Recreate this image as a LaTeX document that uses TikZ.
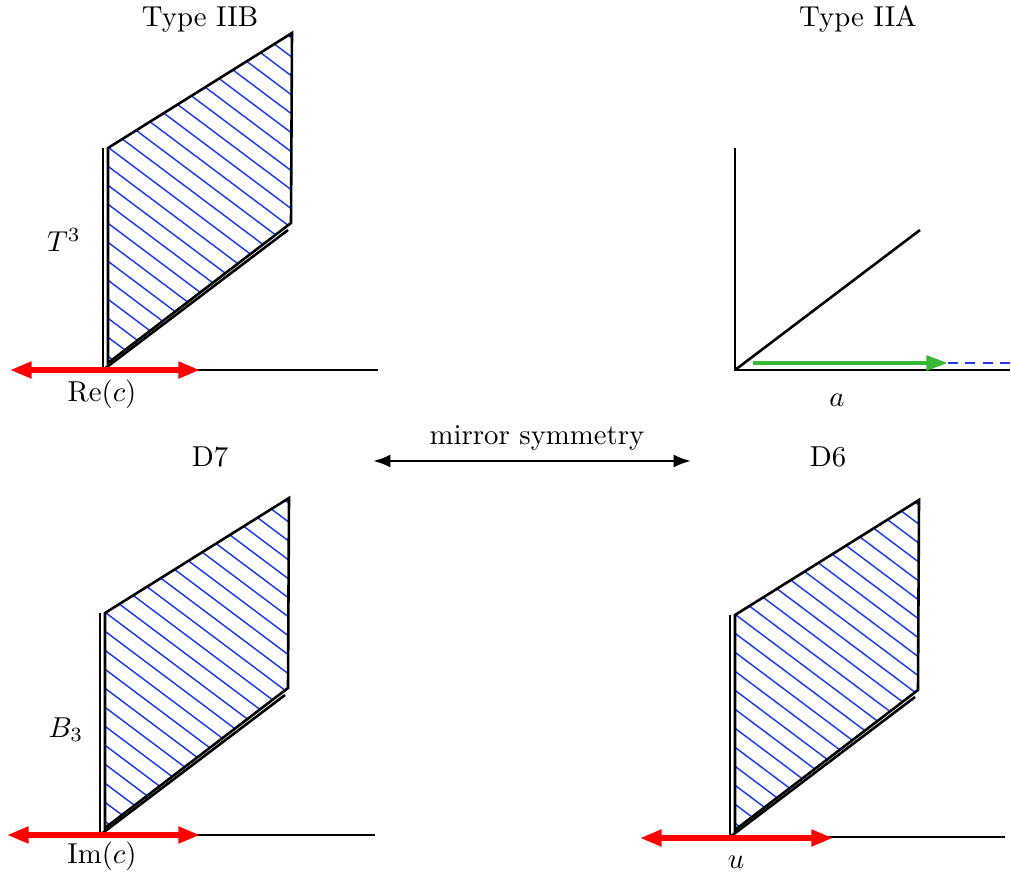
\documentclass[tikz,border=0pt]{standalone}
\usepackage{tikz}
\usetikzlibrary{arrows.meta,positioning,calc}
\definecolor{hatchblue}{RGB}{30,60,235}
\definecolor{flowgreen}{RGB}{55,185,55}
\tikzset{
  axis/.style={line width=0.9pt},
  edge/.style={line width=0.9pt, line join=miter},
  hatch/.style={hatchblue, line width=0.5pt},
  lbl/.style={font=\fontsize{10}{12}\selectfont, inner sep=0pt, anchor=base},
  move/.style={{Triangle[length=7.5pt,width=5.5pt]}-{Triangle[length=7.5pt,width=5.5pt]},
    red, line width=1.8pt},
  drift/.style={-{Triangle[length=7.5pt,width=5pt]}, flowgreen, line width=1.5pt},
  tail/.style={hatchblue, line width=1pt, dash pattern=on 3.5pt off 2.5pt},
  mirr/.style={{Latex[length=6pt,width=4.5pt]}-{Latex[length=6pt,width=4.5pt]}, line width=0.9pt}
}
% three axes meeting at the origin #1
\newcommand{\axes}[1]{%
  \draw[axis] ($(#1)+(0,-222)$) -- (#1) -- ($(#1)+(275,0)$);
  \draw[axis] (#1) -- ($(#1)+(185,-140)$);}
% hatched brane leaning on the axes at #1
\newcommand{\brane}[1]{%
  \begin{scope}[shift={(#1)}]
    \begin{scope}
      \clip (5,-7) -- (5,-222) -- (189,-337) -- (188,-147) -- cycle;
      \foreach \k in {-15,...,13}
        \draw[hatch] (-10,-222+19*\k-12) -- ++(260,195);
    \end{scope}
    \draw[edge] (5,-7) -- (5,-222) -- (189,-337) -- (188,-147) -- cycle;
  \end{scope}}

\begin{document}
\begin{tikzpicture}[x=0.0122cm, y=-0.0122cm]
  \useasboundingbox (0,0) rectangle (1011,872);

  % origins of the four panels
  \coordinate (o1) at (103,370);
  \coordinate (o2) at (735,370);
  \coordinate (o3) at (100,835);
  \coordinate (o4) at (730,837);

  % type IIB
  \brane{o1}
  \axes{o1}
  \coordinate (re-l) at ($(o1)+(-93,0)$);
  \coordinate (re-r) at ($(o1)+(97,0)$);
  \draw[move] (re-l) -- (re-r);
  \node[lbl] (t2b) at (200,27) {Type IIB};
  \node[lbl] (tor) at (64,252) {$T^3$};
  \node[lbl] (rec) at (102,402) {Re$(c)$};

  % type IIA
  \axes{o2}
  \coordinate (g0) at ($(o2)+(18,-7)$);
  \coordinate (g1) at ($(o2)+(213,-7)$);
  \coordinate (g2) at ($(o2)+(276,-7)$);
  \draw[tail] (g1) -- (g2);
  \draw[drift] (g0) -- (g1);
  \node[lbl] (t2a) at (858,27) {Type IIA};
  \node[lbl] (acoord) at (837,407) {$a$};

  % mirror map
  \node[lbl] (d7) at (210,467) {D7};
  \node[lbl] (d6) at (828,467) {D6};
  \coordinate (ms-l) at (373,461);
  \coordinate (ms-r) at (691,461);
  \draw[mirr] (ms-l) -- (ms-r);
  \node[lbl] (ms) at (537,445) {mirror symmetry};

  % D7 side
  \brane{o3}
  \axes{o3}
  \coordinate (im-l) at ($(o3)+(-93,0)$);
  \coordinate (im-r) at ($(o3)+(100,0)$);
  \draw[move] (im-l) -- (im-r);
  \node[lbl] (base) at (66,737) {$B_3$};
  \node[lbl] (imc) at (102,863) {Im$(c)$};

  % D6 side
  \brane{o4}
  \axes{o4}
  \coordinate (u-l) at ($(o4)+(-90,1)$);
  \coordinate (u-r) at ($(o4)+(103,1)$);
  \draw[move] (u-l) -- (u-r);
  \node[lbl] (ucoord) at (736,868) {$u$};
\end{tikzpicture}
\end{document}
